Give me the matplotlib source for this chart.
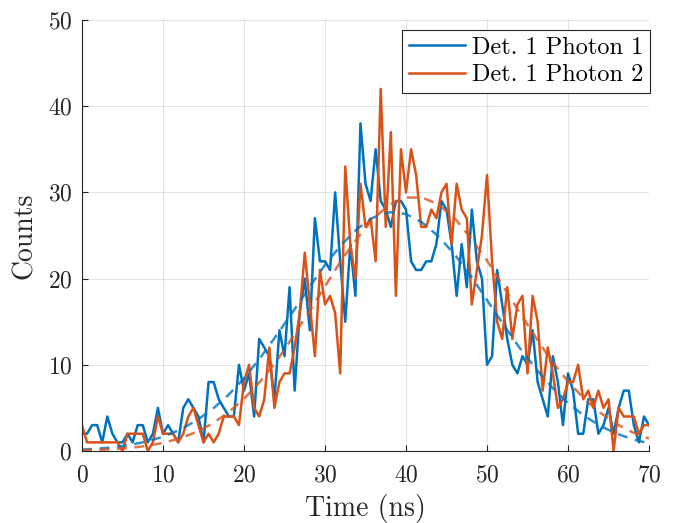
import numpy as np
import matplotlib
matplotlib.use("Agg")
import matplotlib.pyplot as plt

plt.rcParams['font.family'] = 'serif'
plt.rcParams['font.serif'] = ['cmr10']
plt.rcParams['mathtext.fontset'] = 'cm'
plt.rcParams['axes.formatter.use_mathtext'] = True

# time bins (ns), 0.625 ns wide
t = np.linspace(0, 70, 113)

photon1 = [2, 2, 3, 3, 1, 4, 2, 1, 1, 2, 1, 3, 3, 1, 2, 5, 2,
           3, 2, 1, 5, 6, 5, 4, 1, 8, 8, 6, 5, 4, 4, 10, 7,
           9, 4, 13, 12, 11, 6, 14, 11, 19, 7, 16, 20, 14, 27,
           22, 22, 21, 30, 22, 15, 24, 18, 38, 31, 29, 35, 29, 28, 26, 29, 29, 28,
           22, 21, 21, 22, 22, 24, 29, 28,
           24, 18, 24, 19, 28, 22, 20, 10, 11, 21, 17, 13, 10, 9, 11, 10, 14, 8, 6, 4,
           11, 8, 3, 9, 7, 2, 2, 6, 6, 2, 3, 5, 2, 5, 7, 7, 3, 1, 4, 3]

photon2 = [3, 1, 1, 1, 1, 1, 1, 1, 0, 2, 2, 2, 2, 0, 1, 4, 2,
           2, 2, 1, 2, 4, 5, 3, 1, 2, 1, 2, 4, 4, 4, 3, 8,
           10, 5, 4, 6, 12, 5, 8, 9, 9, 12, 16, 23,
           17, 11, 21, 17, 18, 16, 9, 33, 24, 20, 31, 26, 27, 22, 42, 26, 37, 18, 35, 30,
           35, 32, 26, 26, 28, 27, 30, 31,
           24, 31, 28, 27, 17, 21, 25, 32, 22, 15, 13, 19, 13, 17, 18, 9, 18, 15, 7, 12,
           9, 5, 6, 8, 8, 10, 6, 7, 5, 7, 5, 6, 0, 5, 4, 4, 4, 2, 3, 3]

t_fit = np.arange(0, 71, 2)
fit1 = [0.16, 0.27, 0.44, 0.71, 1.10, 1.65, 2.42, 3.46, 4.77, 6.43, 8.43, 10.8,
        13.4, 16.1, 18.9, 21.6, 23.9, 25.8, 27.1, 27.7, 27.5, 26.5, 24.9, 22.8,
        20.3, 17.5, 14.7, 12.0, 9.57, 7.40, 5.56, 4.07, 2.90, 2.01, 1.35, 0.88]
fit2 = [0.07, 0.12, 0.22, 0.36, 0.59, 0.94, 1.44, 2.15, 3.13, 4.42, 6.05, 8.07,
        10.4, 13.2, 16.1, 19.1, 22.1, 24.7, 27.0, 28.6, 29.4, 29.4, 28.6, 27.0,
        24.7, 22.1, 19.1, 16.1, 13.2, 10.4, 8.07, 6.05, 4.42, 3.13, 2.15, 1.44]

blue = '#0072BD'
orange = '#D95319'
dark = '#262626'

fig = plt.figure(figsize=(6.76, 5.23), dpi=100)
ax = fig.add_axes([0.1213, 0.1377, 0.8388, 0.8241])

ax.plot(t, photon1, color=blue, lw=1.8, label='Det. 1 Photon 1')
ax.plot(t, photon2, color=orange, lw=1.8, label='Det. 1 Photon 2')
ax.plot(t_fit, fit1, '--', color=blue, lw=1.8, alpha=0.8, dashes=(4, 3))
ax.plot(t_fit, fit2, '--', color=orange, lw=1.8, alpha=0.8, dashes=(4, 3))

ax.set_xlim(0, 70)
ax.set_ylim(0, 50)
ax.set_xticks(range(0, 71, 10))
ax.set_yticks(range(0, 51, 10))
ax.grid(True, color=dark, alpha=0.12, lw=0.8)
ax.set_axisbelow(True)
for s in ['top', 'right']:
    ax.spines[s].set_visible(False)
for s in ['left', 'bottom']:
    ax.spines[s].set_color(dark)
    ax.spines[s].set_linewidth(0.8)
ax.tick_params(direction='in', length=4, width=0.8, colors=dark,
               labelsize=17, labelcolor=dark)
ax.tick_params(axis='x', pad=10)
ax.tick_params(axis='y', pad=7)

ax.set_xlabel('Time (ns)', fontsize=20, color=dark, labelpad=5)
ax.set_ylabel('Counts', fontsize=20, color=dark, labelpad=7)

leg = ax.legend(loc='upper right', bbox_to_anchor=(650 / 676, 1 - 30 / 523),
                bbox_transform=fig.transFigure, fontsize=17.5, frameon=True,
                fancybox=False, edgecolor=dark, framealpha=1, handlelength=2.3,
                handletextpad=0.3, borderpad=0.28, labelspacing=0.22,
                borderaxespad=0)
leg.get_frame().set_linewidth(0.8)

fig.savefig('out.png', dpi=100)
